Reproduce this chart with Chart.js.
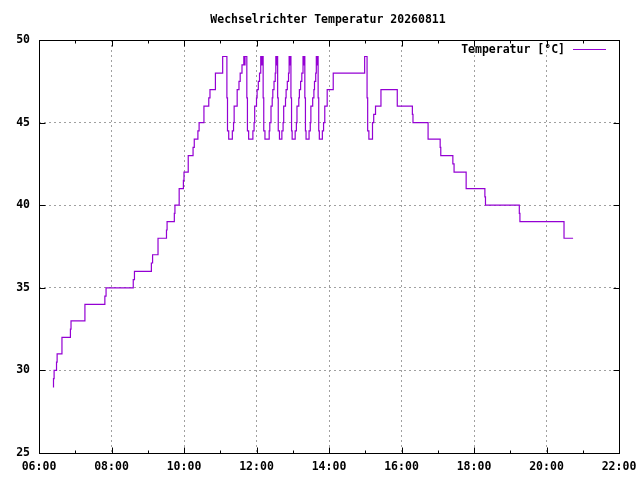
<!DOCTYPE html>
<html>
<head>
<meta charset="utf-8">
<script src="https://cdn.jsdelivr.net/npm/chart.js@4.4.1/dist/chart.umd.min.js"></script>
<style>
html,body{margin:0;padding:0;background:#fff;}
#wrap{width:640px;height:480px;}
</style>
</head>
<body>
<div id="wrap"><canvas id="c" width="640" height="480"></canvas></div>
<script>
const chartTitle = "Wechselrichter Temperatur 20260811";
const seriesLabel = "Temperatur [°C]";

const times = [
"06:23","06:24","06:25","06:29","06:30","06:38","06:52","06:53","07:16","07:49",
"07:51","08:36","08:38","09:06","09:08","09:17","09:31","09:32","09:44","09:45",
"09:52","09:59","10:00","10:07","10:15","10:17","10:23","10:25","10:33","10:41",
"10:43","10:52","11:04",
"11:11","11:12","11:14","11:20","11:22","11:23","11:28","11:31","11:33","11:36","11:39","11:40","11:41",
"11:44","11:45","11:47",
"11:54","11:56","11:57","12:00","12:01","12:03","12:05","12:07","12:08","12:09",
"12:11","12:12","12:14",
"12:21","12:22","12:24","12:26","12:27","12:29","12:31","12:32","12:33","12:34",
"12:35","12:36","12:38",
"12:42","12:44","12:45","12:48","12:49","12:51","12:53","12:54","12:55","12:56",
"12:57","12:58","12:59",
"13:04","13:06","13:07","13:10","13:11","13:13","13:15","13:17","13:18","13:19",
"13:20","13:21","13:22",
"13:27","13:29","13:30","13:33","13:35","13:36","13:38","13:39","13:40","13:41",
"13:42","13:43","13:44",
"13:49","13:51","13:53","13:57","14:07","14:59",
"15:03","15:04","15:06","15:12","15:14","15:17","15:26","15:53",
"16:18","16:19","16:44","17:04","17:05","17:25","17:27","17:47","18:18","18:19",
"19:15","19:16","20:29","20:44"
];

const values = [
29,29.5,30,30.5,31,32,32.5,33,34,34.5,
35,35.5,36,36.5,37,38,38.5,39,39.5,40,
41,41.5,42,43,43.5,44,44.5,45,46,46.5,
47,48,49,
46.5,44.5,44,44.5,45,46,47,47.5,48,48.5,49,48.5,49,
46.5,44.5,44,
44.5,45,46,46.5,47,47.5,48,49,48.5,49,
46.5,44.5,44,
44.5,45,46,46.5,47,47.5,48,49,48.5,49,
46.5,44.5,44,
44.5,45,46,46.5,47,47.5,48,49,48.5,49,
46.5,44.5,44,
44.5,45,46,46.5,47,47.5,48,49,48.5,49,
46.5,44.5,44,
44.5,45,46,46.5,47,47.5,48,49,48.5,49,
46.5,44.5,44,
44.5,45,46,47,48,49,
46.5,44.5,44,45,45.5,46,47,46,
45.5,45,44,43.5,43,42.5,42,41,40.5,40,
39.5,39,38,38
];

const xTickLabels = ["06:00","08:00","10:00","12:00","14:00","16:00","18:00","20:00","22:00"];
const yTickLabels = [25,30,35,40,45,50];

function toMin(s){ const p = s.split(':'); return (+p[0])*60 + (+p[1]); }
function fmtMin(v){ const h=Math.floor(v/60), m=Math.round(v%60); return String(h).padStart(2,'0')+':'+String(m).padStart(2,'0'); }

const xMin = toMin(xTickLabels[0]);
const xMax = toMin(xTickLabels[xTickLabels.length-1]);
const xStep = toMin(xTickLabels[1]) - xMin;
const yMin = yTickLabels[0], yMax = yTickLabels[yTickLabels.length-1];
const yStep = yTickLabels[1]-yTickLabels[0];

const points = times.map((t,i)=>({x:toMin(t), y:values[i]}));

const FONT_FAMILY = "'DejaVu Sans Mono', monospace";
const FONT_SIZE = 11.5;
const LINE_COLOR = '#9400d3';

const gnuplotFrame = {
  id:'gnuplotFrame',
  afterDatasetsDraw(chart){
    const ctx = chart.ctx, a = chart.chartArea;
    const xs = chart.scales.x, ys = chart.scales.y;
    const L = Math.round(a.left)+0.5, R = Math.round(a.right)+0.5;
    const T = Math.round(a.top)+0.5, B = Math.round(a.bottom)+0.5;
    ctx.save();
    ctx.strokeStyle = '#000'; ctx.lineWidth = 1; ctx.setLineDash([]);
    ctx.strokeRect(L, T, R-L, B-T);
    ctx.beginPath();
    for (let v = xMin; v <= xMax; v += xStep/2) {
      const major = ((v - xMin) % xStep) === 0;
      const len = major ? 6 : 3;
      const px = Math.round(xs.getPixelForValue(v)) + 0.5;
      ctx.moveTo(px, B); ctx.lineTo(px, B-len);
      ctx.moveTo(px, T); ctx.lineTo(px, T+len);
    }
    for (const v of yTickLabels) {
      const py = Math.round(ys.getPixelForValue(v)) + 0.5;
      ctx.moveTo(L, py); ctx.lineTo(L+6, py);
      ctx.moveTo(R, py); ctx.lineTo(R-6, py);
    }
    ctx.stroke();
    ctx.restore();
  },
  afterDraw(chart){
    const ctx = chart.ctx;
    ctx.save();
    ctx.fillStyle = '#000';
    ctx.font = 'bold ' + FONT_SIZE + 'px ' + FONT_FAMILY;
    ctx.textBaseline = 'middle';
    ctx.textAlign = 'center';
    ctx.fillText(chartTitle, 328, 20);
    ctx.textAlign = 'right';
    ctx.fillText(seriesLabel, 565, 50);
    ctx.strokeStyle = LINE_COLOR; ctx.lineWidth = 1;
    ctx.beginPath(); ctx.moveTo(573, 49.5); ctx.lineTo(606, 49.5); ctx.stroke();
    ctx.restore();
  }
};

new Chart(document.getElementById('c'), {
  type:'line',
  data:{ datasets:[{
    label: seriesLabel,
    data: points,
    borderColor: LINE_COLOR,
    backgroundColor: LINE_COLOR,
    borderWidth: 1.2,
    pointRadius: 0,
    stepped: 'before',
    fill: false,
    tension: 0
  }]},
  options:{
    responsive:false,
    devicePixelRatio:1,
    animation:false,
    events:[],
    layout:{ padding:{ left:0, top:40, right:21, bottom:0 } },
    plugins:{ legend:{display:false}, title:{display:false}, tooltip:{enabled:false} },
    scales:{
      x:{
        type:'linear', min:xMin, max:xMax,
        afterFit(s){ s.height = 27; s.paddingLeft = 0; s.paddingRight = 0; },
        ticks:{ stepSize:xStep, color:'#000', padding:7, maxRotation:0, autoSkip:false,
          font:{ family:FONT_FAMILY, size:FONT_SIZE, weight:'bold' },
          callback:(v)=>fmtMin(v) },
        grid:{ color:'#a0a0a0', lineWidth:1, drawTicks:false },
        border:{ display:false, dash:[2,3] }
      },
      y:{
        type:'linear', min:yMin, max:yMax,
        afterFit(s){ s.width = 39; s.paddingTop = 0; s.paddingBottom = 0; },
        ticks:{ stepSize:yStep, color:'#000', padding:9,
          font:{ family:FONT_FAMILY, size:FONT_SIZE, weight:'bold' } },
        grid:{ color:'#a0a0a0', lineWidth:1, drawTicks:false },
        border:{ display:false, dash:[2,3] }
      }
    }
  },
  plugins:[gnuplotFrame]
});
</script>
</body>
</html>
